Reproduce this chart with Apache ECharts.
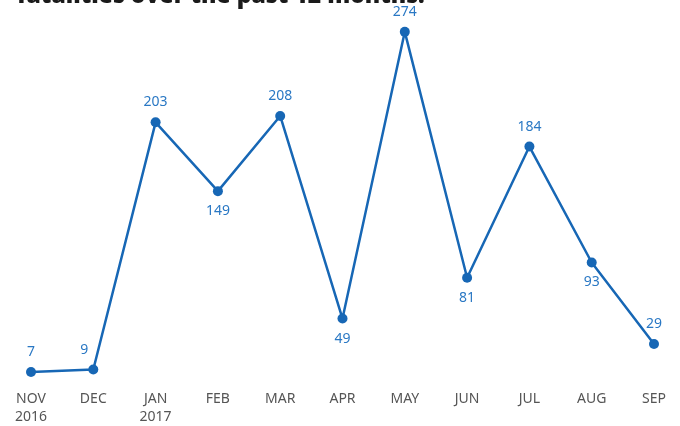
<!DOCTYPE html>
<html><head><meta charset="utf-8">
<script src="https://cdn.jsdelivr.net/npm/echarts@6/dist/echarts.min.js"></script>
<style>html,body{margin:0;padding:0;background:#fff}#c{width:680px;height:426px}</style>
</head><body><div id="c"></div>
<script>
const categories = ["NOV\n2016","DEC","JAN\n2017","FEB","MAR","APR","MAY","JUN","JUL","AUG","SEP"];
const fatalities = [7, 9, 203, 149, 208, 49, 274, 81, 184, 93, 29];
const labelBelow = [false,false,false,true,false,true,false,true,false,true,false];
const titleText = "fatalities over the past 12 months.";

const blue = "#1767b5";
const chart = echarts.init(document.getElementById('c'));
chart.setOption({
  animation:false,
  graphic:[{type:'text', left:17, top:-15, style:{text:titleText, font:'900 23px "Open Sans", sans-serif', fill:'#1a1a1a'}}],
  grid:{left:31, right:26, top:0, bottom:43},
  xAxis:{type:'category', data:categories, boundaryGap:false,
    axisLine:{show:false}, axisTick:{show:false},
    axisLabel:{color:'#555', fontSize:14, fontFamily:'"Noto Sans", sans-serif', margin:9, lineHeight:18, align:'center', interval:0}},
  yAxis:{type:'value', min:0, max:299, show:false, splitLine:{show:false}},
  series:[{type:'line', data:fatalities.map((v,i)=>({value:v, label:{position: labelBelow[i]?'bottom':'top', offset: i===1?[-9,0]:[0,0]}})),
    lineStyle:{color:blue, width:2.5}, itemStyle:{color:blue},
    symbol:'circle', symbolSize:10,
    label:{show:true, color:'#2a78c4', fontSize:14, fontFamily:'"Noto Sans", sans-serif', distance:8}}]
});
</script></body></html>
